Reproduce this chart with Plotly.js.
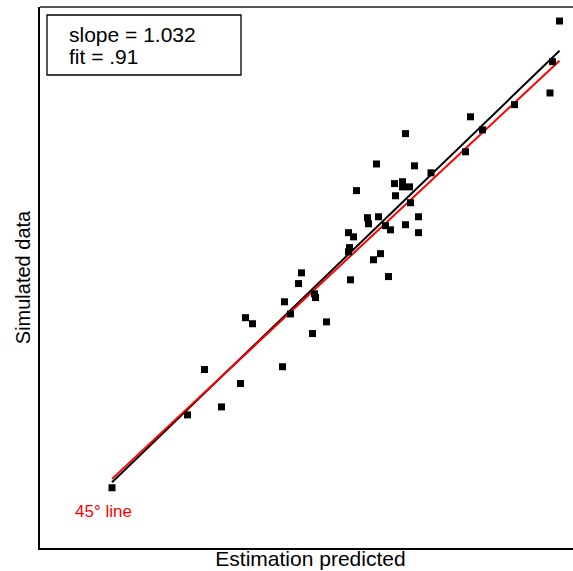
<!DOCTYPE html>
<html>
<head>
<meta charset="utf-8">
<script src="https://cdn.plot.ly/plotly-3.0.1.min.js"></script>
<style>
  html, body { margin: 0; padding: 0; background: #ffffff; overflow: hidden; }
  #chart { width: 581px; height: 571px; }
</style>
</head>
<body>
<div id="chart"></div>
<script>
// Estimated (model-predicted) value for each simulated case
const estPredicted = [
  1.44, 2.95, 3.29, 3.63, 4.01, 4.11, 4.25, 4.85, 4.89, 5.01,
  5.17, 5.23, 5.45, 5.49, 5.51, 5.73, 6.17, 6.17, 6.19, 6.21,
  6.27, 6.33, 6.55, 6.57, 6.67, 6.73, 6.77, 6.81, 6.91, 6.97,
  7.01, 7.09, 7.11, 7.25, 7.25, 7.31, 7.31, 7.39, 7.41, 7.49,
  7.57, 7.57, 7.82, 8.51, 8.61, 8.85, 9.49, 10.20, 10.25, 10.39
];
// Corresponding simulated value
const simulatedData = [
  1.25, 2.81, 3.78, 2.98, 3.48, 4.89, 4.76, 3.84, 5.23, 4.97,
  5.62, 5.85, 4.55, 5.40, 5.32, 4.80, 6.71, 6.30, 6.39, 5.70,
  6.62, 7.61, 7.03, 6.90, 6.13, 8.18, 7.05, 6.26, 6.86, 5.77,
  6.77, 7.76, 7.50, 7.80, 7.69, 8.83, 6.88, 7.69, 7.35, 8.14,
  7.05, 6.71, 7.99, 8.44, 9.19, 8.91, 9.45, 9.70, 10.37, 11.24
];
// Regression summary
const fitSlope = 1.032;
const fitIntercept = -0.12;
const fitLabel = '.91';

const xLo = Math.min(...estPredicted);
const xHi = Math.max(...estPredicted);
const lineX = [xLo, xHi];

const fitTrace = {
  x: lineX,
  y: lineX.map(v => fitSlope * v + fitIntercept),
  mode: 'lines',
  line: { color: '#000000', width: 2 },
  hoverinfo: 'skip',
  showlegend: false
};
const diagTrace = {
  x: lineX,
  y: lineX.slice(),
  mode: 'lines',
  line: { color: '#ff0000', width: 2 },
  hoverinfo: 'skip',
  showlegend: false
};
const pointTrace = {
  x: estPredicted,
  y: simulatedData,
  mode: 'markers',
  marker: { symbol: 'square', size: 7, color: '#000000', line: { width: 0 } },
  showlegend: false
};

const font = 'Arial, "Liberation Sans", sans-serif';
const plotW = 541, plotH = 541;

const layout = {
  width: 581,
  height: 571,
  margin: { l: 40, r: 0, t: 7, b: 23, pad: 0 },
  paper_bgcolor: '#ffffff',
  plot_bgcolor: '#ffffff',
  font: { family: font, color: '#000000' },
  showlegend: false,
  xaxis: {
    range: [0, 10.82],
    showgrid: false,
    zeroline: false,
    showticklabels: false,
    ticks: '',
    showline: true,
    linecolor: '#000000',
    linewidth: 2,
    title: { text: 'Estimation predicted', font: { size: 21, family: font }, standoff: 2 }
  },
  yaxis: {
    range: [-0.04, 11.54],
    showgrid: false,
    zeroline: false,
    showticklabels: false,
    ticks: '',
    showline: true,
    linecolor: '#000000',
    linewidth: 2,
    title: { text: 'Simulated data', font: { size: 20, family: font }, standoff: 2 }
  },
  shapes: [
    // top frame edge
    { type: 'line', xref: 'paper', yref: 'paper', x0: 0, x1: 1, y0: 1, y1: 1,
      line: { color: '#555555', width: 2 } },
    // box around the fit summary
    { type: 'rect', xref: 'paper', yref: 'paper',
      x0: 7 / plotW, x1: 201 / plotW, y0: 1 - 68 / plotH, y1: 1 - 8 / plotH,
      line: { color: '#000000', width: 1.3 }, fillcolor: 'rgba(0,0,0,0)' }
  ],
  annotations: [
    { xref: 'paper', yref: 'paper', x: 27 / plotW, y: 1 - 28 / plotH,
      xanchor: 'left', yanchor: 'middle', showarrow: false,
      text: 'slope = ' + fitSlope.toFixed(3), font: { size: 21, family: font, color: '#000000' } },
    { xref: 'paper', yref: 'paper', x: 27 / plotW, y: 1 - 49 / plotH,
      xanchor: 'left', yanchor: 'middle', showarrow: false,
      text: 'fit = ' + fitLabel, font: { size: 21, family: font, color: '#000000' } },
    { xref: 'paper', yref: 'paper', x: 33 / plotW, y: 1 - 504 / plotH,
      xanchor: 'left', yanchor: 'middle', showarrow: false,
      text: '45° line', font: { size: 17, family: font, color: '#ff0000' } }
  ]
};

Plotly.newPlot('chart', [fitTrace, diagTrace, pointTrace], layout, { staticPlot: true, displayModeBar: false });
</script>
</body>
</html>
